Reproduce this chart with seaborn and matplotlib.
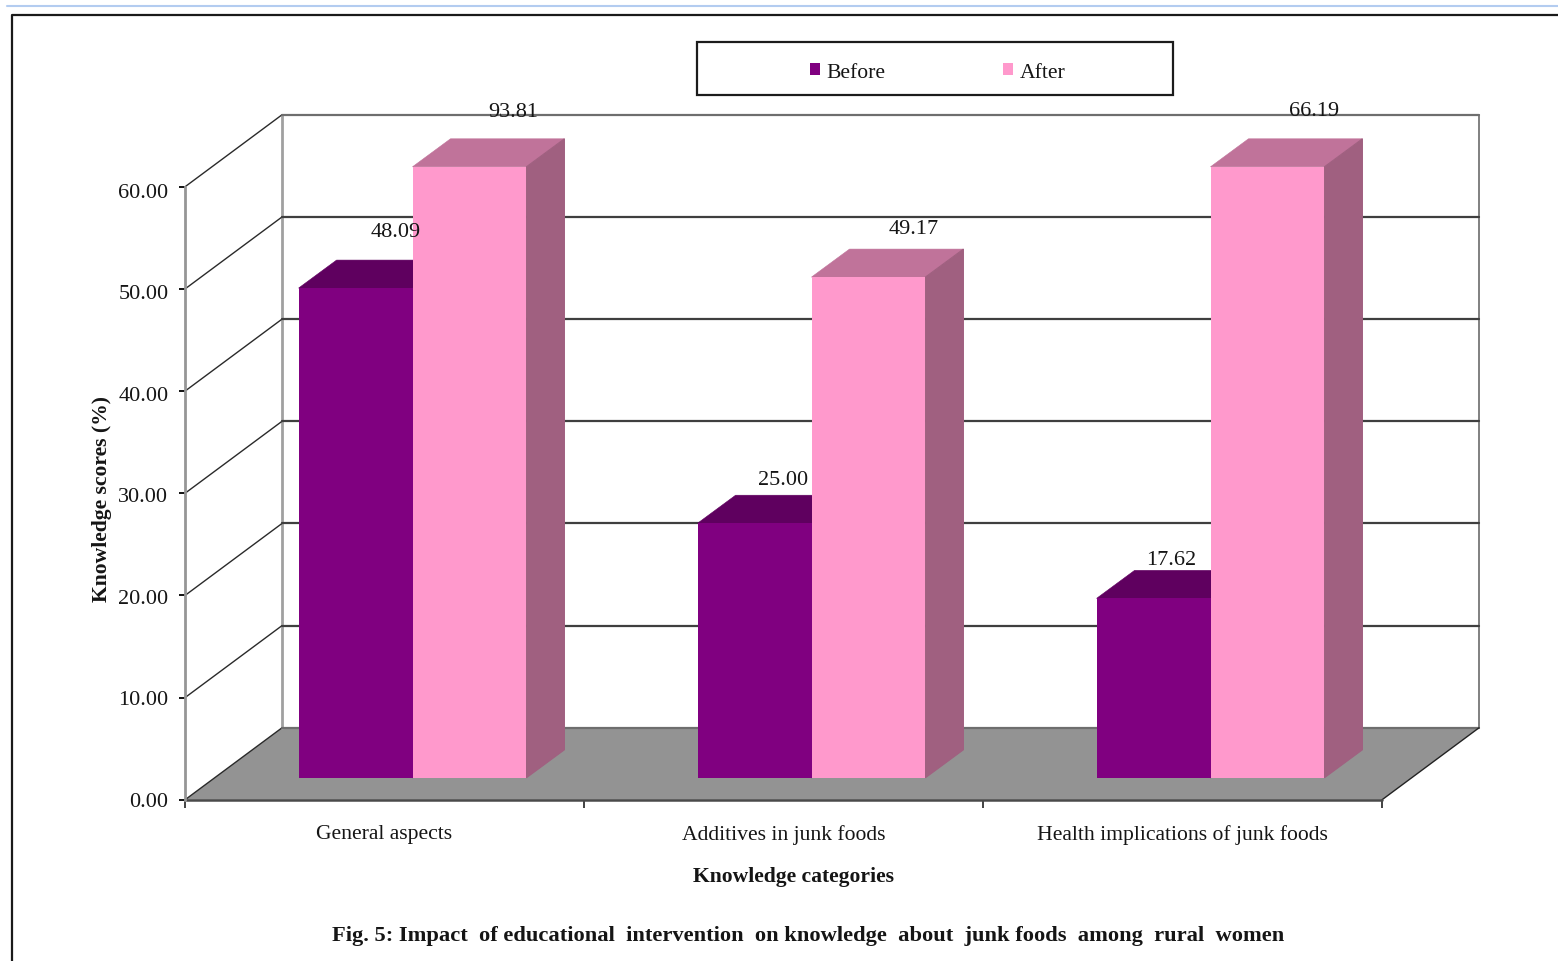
import matplotlib
matplotlib.use("Agg")
import matplotlib.pyplot as plt
import pandas as pd
import seaborn as sns
from matplotlib.lines import Line2D
from matplotlib.patches import Polygon, Rectangle
from matplotlib.transforms import Affine2D, ScaledTranslation

# Chart values
categories = ["General aspects", "Additives in junk foods", "Health implications of junk foods"]
before_scores = [48.09, 25.00, 17.62]
after_scores = [93.81, 49.17, 66.19]
series_names = ["Before", "After"]
y_ticks = [0, 10, 20, 30, 40, 50, 60]

# Styling
W, H = 1558, 962
FRONT_COLORS = {"Before": "#800080", "After": "#FF99CC"}
TOP_COLORS = {"Before": "#5F005F", "After": "#C0739A"}
SIDE_COLORS = {"Before": "#600060", "After": "#A06080"}
FLOOR = "#939393"
INK = "#151515"

sns.set_theme(style="white")
plt.rcParams["font.family"] = ["Liberation Serif", "DejaVu Serif"]

fig = plt.figure(figsize=(W / 100, H / 100), dpi=100, facecolor="white")
# Figure transform in pixels, origin at the top left
px = Affine2D().scale(1 / W, -1 / H).translate(0, 1) + fig.transFigure


def axes_rect(left, top, right, bottom):
    return [left / W, 1 - bottom / H, (right - left) / W, (bottom - top) / H]


# Front plane of the box carries the axes; the bars sit slightly deeper in their own axes
ax = fig.add_axes(axes_rect(185, 187.8, 1382, 800.8))
ax_bar = fig.add_axes(axes_rect(213, 167.8, 1410, 778.8))

ax.set_xlim(-0.5, 2.5)
ax.set_ylim(0, 60)
unit_x = 1197 / 3
unit_y = 613 / 60
box_dx = 97 / unit_x
box_dy = 72 / unit_y

# Back wall, side wall and floor of the box
floor_xy = [(-0.5, 0), (2.5, 0), (2.5 + box_dx, box_dy), (-0.5 + box_dx, box_dy)]
ax.add_patch(Polygon(floor_xy, closed=True, facecolor=FLOOR, edgecolor="none", clip_on=False, zorder=1))
for tick in y_ticks:
    dark = 0 < tick < 60
    ax.plot([-0.5, -0.5 + box_dx], [tick, tick + box_dy], color="#2a2a2a", lw=1.0, clip_on=False, zorder=1.5)
    ax.plot([-0.5 + box_dx, 2.5 + box_dx], [tick + box_dy, tick + box_dy],
            color="#3f3f3f" if dark else "#6e6e6e", lw=1.6, clip_on=False, zorder=1.5)
ax.plot([-0.5 + box_dx] * 2, [box_dy, 60 + box_dy], color="#a0a0a0", lw=2.0, clip_on=False, zorder=1.4)
ax.plot([2.5 + box_dx] * 2, [box_dy, 60 + box_dy], color="#808080", lw=1.4, clip_on=False, zorder=1.4)
ax.plot([2.5, 2.5 + box_dx], [0, box_dy], color="#222222", lw=1.0, clip_on=False, zorder=1.5)
ax.plot([-0.5, 2.5], [0, 0], color="#4a4a4a", lw=1.8, clip_on=False, zorder=1.6)

# Axis dressing
sns.despine(ax=ax)
ax.spines["left"].set_color("#969696")
ax.spines["left"].set_linewidth(2.0)
ax.spines["bottom"].set_visible(False)
ax.set_yticks(y_ticks)
ax.set_yticklabels([f"{t:.2f}" for t in y_ticks], fontsize=16, color=INK)
ax.tick_params(axis="y", direction="out", length=4, width=1.4, color="#111111", pad=8, left=True)
# The labels drift from just below their tick at the top to just above it at the bottom
for tick, tick_label in zip(y_ticks, ax.get_yticklabels()):
    drift = ScaledTranslation(0, -(tick / 15 - 1) / 100, fig.dpi_scale_trans)
    tick_label.set_transform(tick_label.get_transform() + drift)
ax.set_xticks([-0.5, 0.5, 1.5, 2.5])
ax.set_xticklabels([])
ax.tick_params(axis="x", which="major", direction="out", length=5.5, width=1.2, color="#222222", bottom=True)
ax.set_xticks([0, 1, 2], minor=True)
ax.set_xticklabels(categories, minor=True, fontsize=15.6, color=INK)
ax.tick_params(axis="x", which="minor", length=0, pad=17.5)
ax.set_xlabel("Knowledge categories", fontsize=15.6, fontweight="bold", color=INK)
ax.xaxis.set_label_coords(794, 867, transform=px)
ax.set_ylabel("Knowledge scores (%)", fontsize=15.6, fontweight="bold", color=INK)
ax.yaxis.set_label_coords(112, 499, transform=px)

# Bars
scores = pd.DataFrame({
    "category": categories * 2,
    "series": [series_names[0]] * 3 + [series_names[1]] * 3,
    "score": before_scores + after_scores,
})
sns.barplot(data=scores, x="category", y="score", hue="series", hue_order=series_names,
            palette=FRONT_COLORS, saturation=1, width=0.571, gap=0, linewidth=0,
            legend=True, ax=ax_bar)
ax_bar.set_xlim(-0.5, 2.5)
ax_bar.set_ylim(0, 60)
handles, labels = ax_bar.get_legend_handles_labels()
ax_bar.legend_.remove()

# Top and side faces of each bar, stopped at the axis limit
bar_dx = 38 / unit_x
bar_dy = 28 / (611 / 60)
label_offsets = {
    "Before": [(40, 57), (29, 44), (18, 39)],
    "After": [(44, 55), (45, 49), (47, 56)],
}
for name, container in zip(series_names, ax_bar.containers):
    for rect, offset in zip(container, label_offsets[name]):
        x0 = rect.get_x()
        x1 = x0 + rect.get_width()
        value = rect.get_height()
        top = min(value, 60)
        ax_bar.add_patch(Polygon(
            [(x0, top), (x1, top), (x1 + bar_dx, top + bar_dy), (x0 + bar_dx, top + bar_dy)],
            closed=True, facecolor=TOP_COLORS[name], edgecolor=TOP_COLORS[name], lw=0.4,
            clip_on=False, zorder=0.5))
        ax_bar.add_patch(Polygon(
            [(x1, 0), (x1 + bar_dx, bar_dy), (x1 + bar_dx, top + bar_dy), (x1, top)],
            closed=True, facecolor=SIDE_COLORS[name], edgecolor=SIDE_COLORS[name], lw=0.8,
            clip_on=False, zorder=0.5))
        ax_bar.annotate(f"{value:.2f}", xy=((x0 + x1) / 2, top), xytext=offset,
                        textcoords="offset pixels", ha="center", va="center",
                        fontsize=16, color=INK, annotation_clip=False, zorder=5)
ax_bar.set_axis_off()

# Legend with its wide box
fig.add_artist(Rectangle((697, 42.5), 476, 53, transform=px, facecolor="white",
                         edgecolor="#1c1c1c", linewidth=1.6, zorder=-1))
legend = ax_bar.legend(handles, labels, ncol=2, loc="center", bbox_to_anchor=(937.5, 73),
                       bbox_transform=px, frameon=False, fontsize=15.6,
                       handlelength=0.48, handleheight=0.48, handletextpad=0.3,
                       columnspacing=5.4, labelcolor=INK)
legend.set_zorder(10)

# Page furniture around the chart
fig.add_artist(Line2D([7, W], [6.5, 6.5], transform=px, color="#B3CCF0", lw=1.5))
fig.add_artist(Line2D([12.5, 12.5, W], [H, 15.5, 15.5], transform=px, color="#1a1a1a", lw=1.6))
fig.text(808, 936,
         "Fig. 5: Impact  of educational  intervention  on knowledge  about  junk foods  among  rural  women",
         transform=px, ha="center", va="center", fontsize=16.2, fontweight="bold", color=INK)

fig.savefig("out.png", dpi=100, facecolor="white")
